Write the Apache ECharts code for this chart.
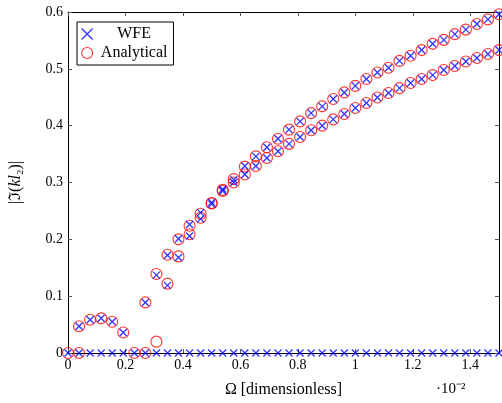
<!DOCTYPE html>
<html>
<head>
<meta charset="utf-8">
<script src="https://cdn.jsdelivr.net/npm/echarts@6/dist/echarts.min.js"></script>
<style>
  html, body { margin: 0; padding: 0; background: #fff; }
  #main { width: 502px; height: 403px; }
</style>
</head>
<body>
<div id="main"></div>
<script>
// frequency values, x axis is in units of 1e-2
var omega = [0, 0.0385, 0.0769, 0.1154, 0.1538, 0.1923, 0.2308, 0.2692, 0.3077, 0.3462,
  0.3846, 0.4231, 0.4615, 0.5, 0.5385, 0.5769, 0.6154, 0.6538, 0.6923, 0.7308,
  0.7692, 0.8077, 0.8462, 0.8846, 0.9231, 0.9615, 1.0, 1.0385, 1.0769, 1.1154,
  1.1538, 1.1923, 1.2308, 1.2692, 1.3077, 1.3462, 1.3846, 1.4231, 1.4615, 1.5];

// upper branch
var wfeBranch1 = [null, 0.047, 0.0585, 0.061, 0.055, 0.036, null, 0.089, 0.137, 0.172,
  0.201, 0.226, 0.247, 0.265, 0.288, 0.305, 0.329, 0.346, 0.362, 0.377,
  0.393, 0.4075, 0.422, 0.434, 0.447, 0.4585, 0.470, 0.482, 0.4935, 0.502,
  0.514, 0.523, 0.533, 0.544, 0.551, 0.561, 0.569, 0.579, 0.587, 0.596];
var anaBranch1 = [null, 0.047, 0.0585, 0.061, 0.055, 0.036, null, 0.089, 0.139, 0.173,
  0.200, 0.224, 0.245, 0.264, 0.287, 0.306, 0.328, 0.346, 0.362, 0.377,
  0.393, 0.4075, 0.422, 0.434, 0.447, 0.4585, 0.470, 0.482, 0.4935, 0.502,
  0.514, 0.523, 0.533, 0.544, 0.551, 0.561, 0.569, 0.579, 0.587, 0.596];

// lower branch
var wfeBranch2 = [null, null, null, null, null, null, null, null, null, 0.119,
  0.168, 0.206, 0.236, 0.262, 0.285, 0.300, 0.314, 0.329, 0.343, 0.355,
  0.368, 0.380, 0.392, 0.400, 0.411, 0.4205, 0.431, 0.440, 0.4496, 0.4574,
  0.466, 0.475, 0.482, 0.489, 0.498, 0.505, 0.513, 0.519, 0.526, 0.533];
var anaBranch2 = [null, null, null, null, null, null, null, null, 0.02, 0.122,
  0.170, 0.209, 0.238, 0.263, 0.285, 0.300, 0.314, 0.329, 0.343, 0.355,
  0.368, 0.380, 0.392, 0.400, 0.411, 0.4205, 0.431, 0.440, 0.4496, 0.4574,
  0.466, 0.475, 0.482, 0.489, 0.498, 0.505, 0.513, 0.519, 0.526, 0.533];

// zero branch
var wfeBranch3 = [0, 0, 0, 0, 0, 0, 0, 0, 0, 0, 0, 0, 0, 0, 0, 0, 0, 0, 0, 0,
  0, 0, 0, 0, 0, 0, 0, 0, 0, 0, 0, 0, 0, 0, 0, 0, 0, 0, 0, 0];
var anaBranch3 = [0, 0, null, null, null, null, 0, 0, null, null];

var yTicks = [0, 0.1, 0.2, 0.3, 0.4, 0.5, 0.6];

function pairs(vals) {
  var out = [];
  for (var i = 0; i < vals.length; i++) {
    if (vals[i] !== null) out.push([omega[i], vals[i]]);
  }
  return out;
}

var crossPath = "path://M0,0L10,10M10,0L0,10";
var serif = "Liberation Serif";

function wfe(vals) {
  return {
    name: "WFE",
    type: "scatter",
    symbol: crossPath,
    symbolSize: 7,
    itemStyle: { color: "rgba(0,0,0,0)", borderColor: "#0000ff", borderWidth: 1.3 },
    z: 3,
    data: pairs(vals)
  };
}
function ana(vals) {
  return {
    name: "Analytical",
    type: "scatter",
    symbol: "circle",
    symbolSize: 11,
    itemStyle: { color: "rgba(0,0,0,0)", borderColor: "#ff0000", borderWidth: 1.1 },
    z: 2,
    data: pairs(vals)
  };
}

var chart = echarts.init(document.getElementById("main"));
chart.setOption({
  backgroundColor: "#ffffff",
  animation: false,
  textStyle: { fontFamily: serif },
  grid: { left: 64, right: 3, top: 12, bottom: 49 },
  legend: {
    orient: "vertical",
    left: 77,
    top: 22,
    padding: [4, 6, 4, 4],
    itemGap: 3,
    itemWidth: 14,
    itemHeight: 11,
    borderColor: "#000",
    borderWidth: 1,
    formatter: function (name) { return "{c|" + name + "}"; },
    textStyle: {
      fontFamily: serif, fontSize: 16, color: "#000",
      rich: { c: { fontFamily: serif, fontSize: 16, color: "#000", width: 70, align: "center" } }
    },
    data: [
      { name: "WFE", icon: crossPath, itemStyle: { color: "rgba(0,0,0,0)", borderColor: "#0000ff", borderWidth: 1.3 } },
      { name: "Analytical", icon: "circle", itemStyle: { color: "rgba(0,0,0,0)", borderColor: "#ff0000", borderWidth: 1.1 } }
    ]
  },
  xAxis: [
    {
      type: "value",
      min: 0,
      max: 1.5,
      interval: 0.2,
      position: "bottom",
      name: "Ω [dimensionless]",
      nameLocation: "middle",
      nameGap: 29,
      nameTextStyle: { fontFamily: serif, fontSize: 16, color: "#000" },
      axisLine: { onZero: false, lineStyle: { color: "#000", width: 1 } },
      axisTick: { inside: true, length: 4, lineStyle: { color: "#555" } },
      axisLabel: { showMaxLabel: false, color: "#000", fontSize: 14, fontFamily: serif, margin: 5 },
      splitLine: { show: false }
    },
    {
      type: "value",
      min: 0,
      max: 1.5,
      interval: 0.2,
      position: "top",
      axisLine: { onZero: false, lineStyle: { color: "#000", width: 1 } },
      axisTick: { inside: true, length: 4, lineStyle: { color: "#555" } },
      axisLabel: { show: false },
      splitLine: { show: false }
    }
  ],
  yAxis: [
    {
      type: "value",
      min: 0,
      max: 0.6,
      interval: 0.1,
      position: "left",
      name: "|ℑ({i|kl}₂)|",
      nameLocation: "middle",
      nameGap: 44,
      nameRotate: 90,
      nameTextStyle: {
        fontFamily: serif, fontSize: 16, color: "#000",
        rich: { i: { fontFamily: serif, fontSize: 16, fontStyle: "italic", color: "#000" } }
      },
      axisLine: { onZero: false, lineStyle: { color: "#000", width: 1 } },
      axisTick: { inside: true, length: 4, lineStyle: { color: "#555" } },
      axisLabel: {
        color: "#000", fontSize: 14, fontFamily: serif, margin: 5,
        formatter: function (v) {
          for (var k = 0; k < yTicks.length; k++) {
            if (Math.abs(v - yTicks[k]) < 1e-9) return String(yTicks[k]);
          }
          return "";
        }
      },
      splitLine: { show: false }
    },
    {
      type: "value",
      min: 0,
      max: 0.6,
      interval: 0.1,
      position: "right",
      axisLine: { onZero: false, lineStyle: { color: "#000", width: 1 } },
      axisTick: { inside: true, length: 4, lineStyle: { color: "#555" } },
      axisLabel: { show: false },
      splitLine: { show: false }
    }
  ],
  graphic: [
    {
      type: "text",
      left: 436,
      top: 382,
      style: { text: "·10⁻²", fontFamily: serif, fontSize: 15, fill: "#000" }
    }
  ],
  series: [
    ana(anaBranch3),
    ana(anaBranch2),
    ana(anaBranch1),
    wfe(wfeBranch3),
    wfe(wfeBranch2),
    wfe(wfeBranch1)
  ]
});
</script>
</body>
</html>
